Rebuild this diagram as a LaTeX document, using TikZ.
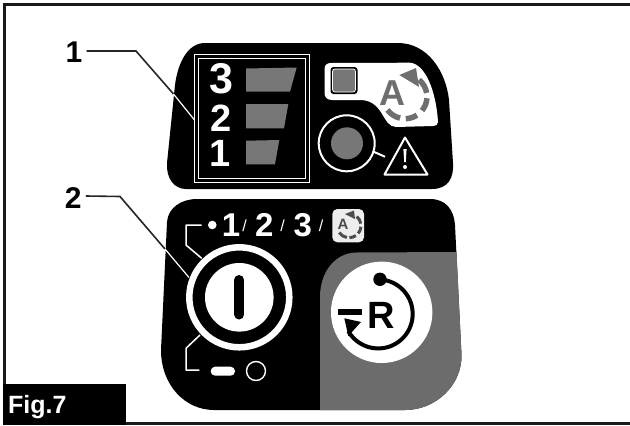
\documentclass[tikz,border=0pt]{standalone}
\usepackage{fontspec}
\usetikzlibrary{calc}
\setmainfont{Liberation Sans}
\definecolor{panelgray}{HTML}{777777}
\definecolor{lowergray}{HTML}{6C6C6C}
\definecolor{icongray}{HTML}{6E6E6E}
\newcommand{\fs}[1]{\fontsize{#1}{#1}\selectfont}
\tikzset{
  txt/.style={inner sep=0pt,font=\bfseries},
  leader/.style={line width=1.6pt,draw=black!85},
  leaderw/.style={line width=1.2pt,draw=white},
  bracket/.style={line width=1.5pt,draw=white},
  seg/.style={line width=5.5pt,draw=icongray},
  segs/.style={line width=3pt,draw=black!70},
}
\begin{document}
\begin{tikzpicture}[x=1pt,y=1pt,yscale=-1]
\useasboundingbox (0,0) rectangle (630,426);
\fill[white] (0,0) rectangle (630,426);
% frame
\draw[line width=2.5pt,black!90] (630,4.5) -- (4.5,4.5) -- (4.5,423.5) -- (630,423.5);
% fig tag
\fill[black] (3,383.5) rectangle (125.5,424.5);
\node[inner sep=0pt,anchor=base west,white,font=\bfseries\fs{25}] (figlabel) at (8,413) {Fig.7};
% top panel
\fill[black] (205,43) -- (398,43) .. controls (428,43) and (446,72) .. (449,100)
  -- (453,163) .. controls (454,178) and (448,189) .. (432,189)
  -- (186,189) .. controls (174,189) and (166,178) .. (167,163)
  -- (175,85) .. controls (178,62) and (188,43) .. (205,43) -- cycle;
% bar box
\draw[white,line width=1pt] (194.5,54.5) rectangle (309,182);
\draw[white,line width=1pt] (198.5,58.5) rectangle (305.5,178);
\node[txt,white,font=\bfseries\fs{43}] (n3) at (221.5,79) {3};
\node[txt,white,font=\bfseries\fs{38}] (n2) at (221.5,118) {2};
\node[txt,white,font=\bfseries\fs{38}] (n1) at (220,153) {1};
\fill[panelgray] (246,68.5) -- (296.7,67.5) -- (290,91.7) -- (246,91.7) -- cycle;
\fill[panelgray] (246,104) -- (288.3,104) -- (284,128.3) -- (246,128.3) -- cycle;
\fill[panelgray] (246,140.7) -- (279.3,140) -- (275,164.3) -- (246,164.3) -- cycle;
% white auto plate
\fill[white] (331,63) -- (410,62.7) .. controls (425,64) and (436,90) .. (438,122)
  .. controls (438,125) and (436,126) .. (433,126) -- (396,127)
  .. controls (382,127) and (384,100) .. (360,100) -- (332,100)
  .. controls (327,100) and (324.5,97) .. (324.5,93) -- (324.5,69)
  .. controls (324.5,65) and (327,63) .. (331,63) -- cycle;
\fill[black,rounded corners=3pt] (330.5,67) rectangle (357.5,94);
\draw[white,line width=.7pt,fill=panelgray,rounded corners=2.5pt] (332.5,69) rectangle (355.5,92);
\node[txt,icongray,font=\bfseries\fs{36}] (autoA) at (392,92.7) {A};
\coordinate (ac) at (405,96.7);
\draw[seg] ($(ac)+(143:22pt)$) arc[start angle=143,end angle=103,radius=22pt];
\draw[seg] ($(ac)+(88:22pt)$) arc[start angle=88,end angle=57,radius=22pt];
\draw[seg] ($(ac)+(39:22pt)$) arc[start angle=39,end angle=4,radius=22pt];
\draw[seg] ($(ac)+(-10:22pt)$) arc[start angle=-10,end angle=-50,radius=22pt];
\fill[icongray] (399.3,75) -- (416,68) -- (419,87) -- cycle;
% warning lamp
\draw[white,line width=2pt] (346.7,143.3) circle[radius=28pt];
\fill[panelgray] (347,143.3) circle[radius=16pt];
\draw[white,line width=2pt] (373.5,151.7) -- (385,156.7);
\draw[white,line width=2pt,line join=round] (405,137.5) -- (384.5,174.5) -- (427.5,174.5) -- cycle;
\fill[white] (403.4,149) -- (406.6,149) -- (405.8,162) -- (404.2,162) -- cycle;
\fill[white] (405,167) circle[radius=2pt];
% lower panel
\fill[black] (197,199) -- (430,199) .. controls (446,199) and (454,210) .. (455,225)
  -- (461.5,355) .. controls (462,385) and (436,410) .. (405,410)
  -- (214,410) .. controls (185,410) and (161,385) .. (161,350)
  -- (167,222) .. controls (168,208) and (181,199) .. (197,199) -- cycle;
% gray region
\fill[lowergray] (320,410) -- (320,297) .. controls (320,272) and (335,253) .. (356,252.5)
  -- (456.5,252) -- (461.5,355) .. controls (462,385) and (436,410) .. (405,410) -- cycle;
% key switch
\draw[white,line width=6.5pt] (239.3,297.3) circle[radius=50pt];
\fill[white] (239.3,297.3) circle[radius=34.3pt];
\draw[black,line width=10pt,line cap=round] (239.3,280) -- (239.3,314.5);
% positions row
\fill[white] (212.3,225) circle[radius=4.3pt];
\node[txt,white,font=\bfseries\fs{33}] (p1) at (231,225) {1};
\node[txt,white,font=\fs{16}] (s1) at (244.5,226) {/};
\node[txt,white,font=\bfseries\fs{33}] (p2) at (264.3,225) {2};
\node[txt,white,font=\fs{16}] (s2) at (282.7,226) {/};
\node[txt,white,font=\bfseries\fs{33}] (p3) at (302.7,225) {3};
\node[txt,white,font=\fs{16}] (s3) at (321,226) {/};
\fill[white!93!black,rounded corners=5pt] (332.3,209) rectangle (364,242.3);
\node[txt,black!70,font=\bfseries\fs{15}] (miniA) at (343,224) {A};
\coordinate (bc) at (349,225.7);
\draw[segs] ($(bc)+(145:12pt)$) arc[start angle=145,end angle=100,radius=12pt];
\draw[segs] ($(bc)+(88:12pt)$) arc[start angle=88,end angle=55,radius=12pt];
\draw[segs] ($(bc)+(40:12pt)$) arc[start angle=40,end angle=5,radius=12pt];
\draw[segs] ($(bc)+(-10:12pt)$) arc[start angle=-10,end angle=-50,radius=12pt];
\fill[black!70] (345,214) -- (354,210.5) -- (355,219) -- cycle;
% brackets
\draw[bracket,line join=round] (201.7,225) -- (186,225) -- (186,245) -- (201.7,258.3);
\draw[bracket,line join=round] (200,335) -- (186,348.3) -- (186,370) -- (199.3,370);
\fill[white,rounded corners=4.4pt] (210.7,366.7) rectangle (235,375.7);
\draw[white,line width=1.4pt] (256,371) circle[radius=9.5pt];
% reset symbol
\fill[white] (381.7,312.3) circle[radius=50.7pt];
\draw[black,line width=4pt] (380,279.5) arc[start angle=-87,end angle=150,radius=34.5pt];
\fill[black] (380,279.3) circle[radius=6.7pt];
\fill[black] (337.7,309) rectangle (362.3,315);
\fill[black] (344.3,318.3) -- (361,322) -- (348.3,336) -- cycle;
\node[txt,black,font=\bfseries\fs{38}] (resetR) at (381.7,315) {R};
% leaders
\node[txt,black,font=\bfseries\fs{30}] (lab1) at (74,52) {1};
\node[txt,black,font=\bfseries\fs{30}] (lab2) at (73.3,198) {2};
\coordinate (b1) at (136,51);
\coordinate (e1) at (173.5,94);
\coordinate (f1) at (194.5,120);
\coordinate (b2) at (120,196.5);
\coordinate (e2) at (165,249);
\coordinate (f2) at (189,277.5);
\draw[leader] (lab1.east) ++(4,-1) -- (b1) -- (e1);
\draw[leaderw] (e1) -- (f1);
\draw[leader] (lab2.east) ++(4,-2) -- (b2) -- (e2);
\draw[leaderw] (e2) -- (f2);
\end{tikzpicture}
\end{document}
